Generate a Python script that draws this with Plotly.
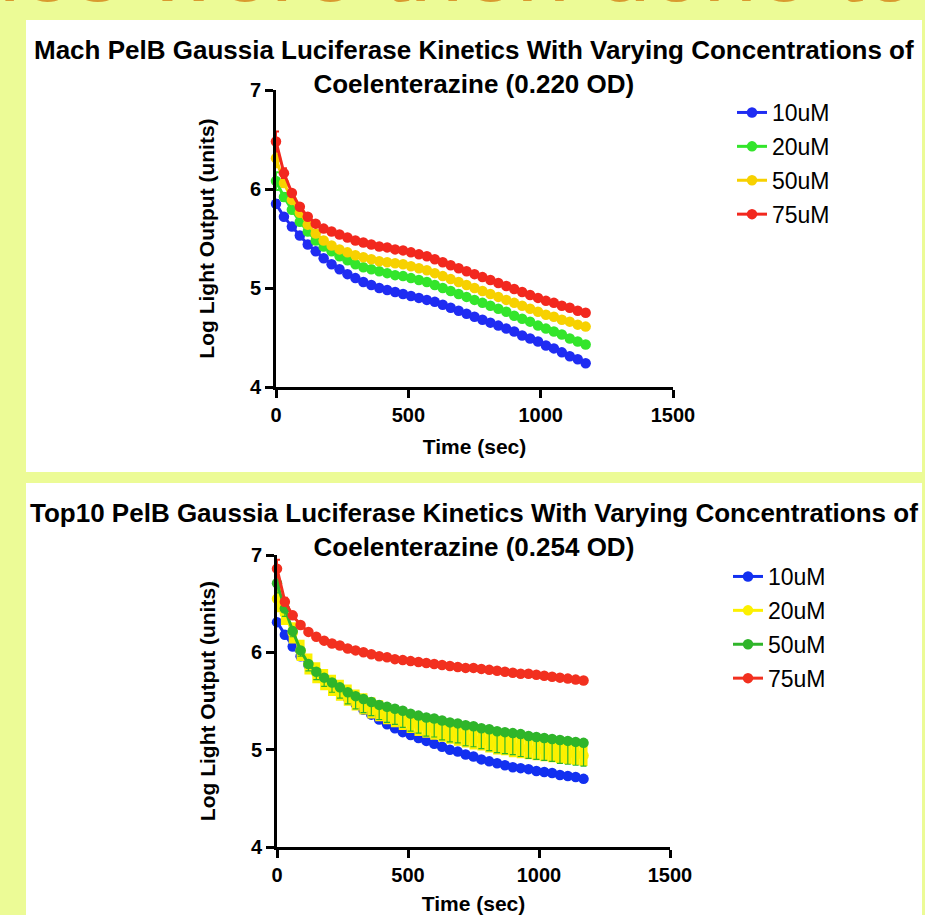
import plotly.graph_objects as go

W, H = 925, 915

# ---------------- data ----------------
time_s = [0, 30, 60, 90, 120, 150, 180, 210, 240, 270, 300, 330, 360, 390, 420,
          450, 480, 510, 540, 570, 600, 630, 660, 690, 720, 750, 780, 810, 840,
          870, 900, 930, 960, 990, 1020, 1050, 1080, 1110, 1140, 1170]

labels_top = ["10uM", "20uM", "50uM", "75uM"]
labels_bot = ["10uM", "20uM", "50uM", "75uM"]

# Mach PelB (0.220 OD)
mach_10 = [5.85, 5.72, 5.62, 5.53, 5.44, 5.37, 5.30, 5.24, 5.19, 5.14, 5.10, 5.06, 5.03, 5.00,
           4.98, 4.96, 4.94, 4.92, 4.90, 4.88, 4.86, 4.83, 4.80, 4.77, 4.74, 4.71, 4.68, 4.65,
           4.62, 4.59, 4.56, 4.52, 4.49, 4.46, 4.42, 4.39, 4.35, 4.31, 4.28, 4.24]
mach_20 = [6.08, 5.92, 5.79, 5.67, 5.57, 5.48, 5.42, 5.37, 5.32, 5.28, 5.24, 5.21, 5.19, 5.17,
           5.15, 5.13, 5.12, 5.10, 5.08, 5.06, 5.03, 5.00, 4.97, 4.94, 4.91, 4.88, 4.85, 4.82,
           4.79, 4.76, 4.72, 4.69, 4.66, 4.62, 4.59, 4.56, 4.53, 4.49, 4.46, 4.43]
mach_50 = [6.31, 6.06, 5.89, 5.76, 5.64, 5.55, 5.48, 5.43, 5.39, 5.36, 5.33, 5.31, 5.29, 5.27,
           5.26, 5.25, 5.24, 5.22, 5.20, 5.18, 5.15, 5.12, 5.09, 5.06, 5.03, 5.00, 4.97, 4.94,
           4.91, 4.88, 4.85, 4.82, 4.79, 4.76, 4.73, 4.71, 4.68, 4.66, 4.63, 4.61]
mach_75 = [6.48, 6.16, 5.96, 5.82, 5.72, 5.65, 5.60, 5.57, 5.54, 5.51, 5.48, 5.46, 5.44, 5.42,
           5.41, 5.39, 5.38, 5.36, 5.34, 5.32, 5.29, 5.26, 5.23, 5.20, 5.17, 5.14, 5.11, 5.08,
           5.05, 5.02, 4.99, 4.96, 4.93, 4.90, 4.87, 4.85, 4.82, 4.80, 4.77, 4.75]
mach_err_10 = [0.04, 0.02, 0.02] + [0.01] * 37
mach_err_20 = [0.09, 0.04, 0.02] + [0.01] * 37
mach_err_50 = [0.09, 0.04, 0.02] + [0.01] * 37
mach_err_75 = [0.10, 0.05, 0.02] + [0.01] * 37

# Top10 PelB (0.254 OD)
top_10 = [6.31, 6.18, 6.06, 5.96, 5.87, 5.80, 5.73, 5.66, 5.59, 5.53, 5.47, 5.41, 5.36, 5.31,
          5.26, 5.22, 5.18, 5.15, 5.12, 5.09, 5.06, 5.03, 5.00, 4.98, 4.95, 4.93, 4.90, 4.88,
          4.86, 4.84, 4.82, 4.81, 4.80, 4.78, 4.77, 4.76, 4.74, 4.73, 4.72, 4.70]
top_20 = [6.55, 6.40, 6.20, 6.02, 5.88, 5.79, 5.72, 5.66, 5.61, 5.56, 5.51, 5.47, 5.43, 5.40,
          5.37, 5.34, 5.31, 5.28, 5.25, 5.23, 5.21, 5.19, 5.17, 5.15, 5.13, 5.11, 5.10, 5.08,
          5.06, 5.05, 5.03, 5.02, 5.01, 5.00, 4.99, 4.98, 4.97, 4.96, 4.95, 4.94]
top_50 = [6.71, 6.45, 6.22, 6.02, 5.88, 5.80, 5.74, 5.69, 5.64, 5.59, 5.55, 5.52, 5.49, 5.46,
          5.44, 5.42, 5.40, 5.37, 5.35, 5.33, 5.32, 5.30, 5.28, 5.27, 5.25, 5.24, 5.22, 5.21,
          5.19, 5.18, 5.17, 5.16, 5.14, 5.13, 5.12, 5.11, 5.10, 5.09, 5.08, 5.07]
top_75 = [6.86, 6.52, 6.38, 6.28, 6.21, 6.16, 6.12, 6.09, 6.07, 6.04, 6.02, 6.00, 5.98, 5.96,
          5.95, 5.93, 5.92, 5.91, 5.90, 5.89, 5.88, 5.87, 5.86, 5.85, 5.84, 5.84, 5.83, 5.82,
          5.81, 5.80, 5.79, 5.78, 5.78, 5.77, 5.76, 5.75, 5.74, 5.73, 5.72, 5.71]
top_err_10 = [0.03, 0.02] + [0.01] * 38
top_err_20 = [0.10, 0.08, 0.07, 0.07, 0.07, 0.07, 0.07, 0.07, 0.07, 0.07, 0.07, 0.07, 0.07, 0.07,
              0.07, 0.07, 0.07, 0.07, 0.07, 0.07, 0.07, 0.07, 0.07, 0.07, 0.07, 0.07, 0.07, 0.07,
              0.07, 0.07, 0.07, 0.07, 0.07, 0.07, 0.07, 0.07, 0.07, 0.07, 0.07, 0.07]
top_err_50_up = [0.06, 0.03] + [0.01] * 38
top_err_50_dn = [0.10, 0.08, 0.06, 0.06, 0.07, 0.08, 0.09, 0.10, 0.11, 0.12, 0.13, 0.14, 0.14, 0.15,
                 0.16, 0.16, 0.17, 0.18, 0.18, 0.19, 0.19, 0.20, 0.20, 0.20, 0.21, 0.21, 0.21, 0.22,
                 0.22, 0.22, 0.22, 0.23, 0.23, 0.23, 0.23, 0.23, 0.24, 0.24, 0.24, 0.24]
top_err_75 = [0.09, 0.04, 0.02] + [0.01] * 37

y_major = [4, 5, 6, 7]
y_minor = [4.301, 4.477, 4.602, 4.699, 4.778, 4.845, 4.903, 4.954,
           5.301, 5.477, 5.602, 5.699, 5.778, 5.845, 5.903, 5.954,
           6.301, 6.477, 6.602, 6.699, 6.778, 6.845, 6.903, 6.954]
x_major = [0, 500, 1000, 1500]

cols_top = ["#1f2cf2", "#33e52b", "#f7d100", "#f2281e"]
cols_bot = ["#1230f0", "#fcf000", "#2fb52a", "#f2301f"]

# ---------------- figure ----------------
FONT = "Liberation Sans, Arial, Helvetica, sans-serif"
fig = go.Figure()


def px_x(p):
    return p / W


def px_y(p):
    return 1 - p / H


def add_series(y, err, color, name, xa, ya, leg, grp, err_dn=None, eth=2, ewid=3):
    ey = dict(type="data", array=err, color=color, thickness=eth, width=ewid, visible=True)
    if err_dn is not None:
        ey["symmetric"] = False
        ey["arrayminus"] = err_dn
    fig.add_trace(go.Scatter(
        x=time_s, y=y, mode="lines+markers", name=name,
        line=dict(color=color, width=3),
        marker=dict(color=color, size=10.5, line=dict(width=0)),
        error_y=ey, xaxis=xa, yaxis=ya, legend=leg, legendgroup=grp,
        cliponaxis=False,
    ))


series_top = [mach_10, mach_20, mach_50, mach_75]
errs_top = [mach_err_10, mach_err_20, mach_err_50, mach_err_75]
for i in range(4):
    add_series(series_top[i], errs_top[i], cols_top[i], labels_top[i], "x", "y", "legend", "t%d" % i)

series_bot = [top_10, top_20, top_50, top_75]
errs_bot = [top_err_10, top_err_20, top_err_50_up, top_err_75]
errs_bot_dn = [None, None, top_err_50_dn, None]
eth_bot = [2, 7.5, 1.2, 2]
ewid_bot = [3, 4, 3, 3]
for i in range(4):
    add_series(series_bot[i], errs_bot[i], cols_bot[i], labels_bot[i], "x2", "y2", "legend2",
               "b%d" % i, err_dn=errs_bot_dn[i], eth=eth_bot[i], ewid=ewid_bot[i])

tickfont = dict(family=FONT, size=20, color="black", weight="bold")
titlefont = dict(family=FONT, size=21, color="black", weight="bold")

common_x = dict(range=[0, 1500], tickvals=x_major, ticks="outside", ticklen=8, tickwidth=3,
                tickcolor="black", showline=True, linewidth=3, linecolor="black",
                showgrid=False, zeroline=False, tickfont=tickfont, automargin=False)
common_y = dict(range=[4, 7], tickvals=y_major, ticks="outside", ticklen=8, tickwidth=3,
                tickcolor="black", showline=True, linewidth=3, linecolor="black",
                showgrid=False, zeroline=False, tickfont=tickfont, automargin=False)
minor_y = dict(range=[4, 7], tickvals=y_minor, ticks="outside", ticklen=5, tickwidth=2,
               tickcolor="black", showline=False, showgrid=False, zeroline=False,
               showticklabels=False, side="left", automargin=False)

top_xd = [px_x(276), px_x(673)]
top_yd = [px_y(387), px_y(90)]
bot_xd = [px_x(277), px_x(670)]
bot_yd = [px_y(847), px_y(555)]

legfont = dict(family=FONT, size=23, color="black")

fig.update_layout(
    width=W, height=H,
    margin=dict(l=0, r=0, t=0, b=0, autoexpand=False),
    paper_bgcolor="#ecfb96",
    plot_bgcolor="rgba(0,0,0,0)",
    showlegend=True,
    xaxis=dict(domain=top_xd, anchor="y",
               title=dict(text="Time (sec)", font=titlefont, standoff=15), **common_x),
    yaxis=dict(domain=top_yd, anchor="x",
               title=dict(text="Log Light Output (units)", font=titlefont, standoff=30), **common_y),
    yaxis3=dict(overlaying="y", anchor="x", **minor_y),
    xaxis2=dict(domain=bot_xd, anchor="y2",
                title=dict(text="Time (sec)", font=titlefont, standoff=15), **common_x),
    yaxis2=dict(domain=bot_yd, anchor="x2",
                title=dict(text="Log Light Output (units)", font=titlefont, standoff=30), **common_y),
    yaxis4=dict(overlaying="y2", anchor="x2", **minor_y),
    legend=dict(x=px_x(732), y=px_y(91), xanchor="left", yanchor="top",
                font=legfont, bgcolor="rgba(0,0,0,0)", tracegroupgap=1, itemwidth=30),
    legend2=dict(x=px_x(728), y=px_y(555), xanchor="left", yanchor="top",
                 font=legfont, bgcolor="rgba(0,0,0,0)", tracegroupgap=1, itemwidth=30),
    shapes=[
        dict(type="rect", xref="paper", yref="paper", x0=px_x(26), x1=px_x(922),
             y0=px_y(472), y1=px_y(20), fillcolor="white", line=dict(width=0), layer="below"),
        dict(type="rect", xref="paper", yref="paper", x0=px_x(26), x1=px_x(922),
             y0=px_y(915), y1=px_y(483), fillcolor="white", line=dict(width=0), layer="below"),
    ],
    annotations=[
        dict(text="ies were then done to", x=px_x(458), y=px_y(23), xref="paper", yref="paper",
             xanchor="center", yanchor="bottom", showarrow=False,
             font=dict(family="Liberation Sans, Arial, sans-serif", size=96, color="#d99a30")),
        dict(text="Mach PelB Gaussia Luciferase Kinetics With Varying Concentrations of<br>"
                  "Coelenterazine (0.220 OD)",
             x=px_x(474), y=px_y(33), xref="paper", yref="paper", xanchor="center", yanchor="top",
             showarrow=False, align="center",
             font=dict(family=FONT, size=26, color="black", weight="bold")),
        dict(text="Top10 PelB Gaussia Luciferase Kinetics With Varying Concentrations of<br>"
                  "Coelenterazine (0.254 OD)",
             x=px_x(474), y=px_y(496), xref="paper", yref="paper", xanchor="center", yanchor="top",
             showarrow=False, align="center",
             font=dict(family=FONT, size=26, color="black", weight="bold")),
    ],
)

fig.write_html("out.html", config={"displayModeBar": False},
               post_script="document.body.style.margin='0';document.body.style.overflow='hidden';")
